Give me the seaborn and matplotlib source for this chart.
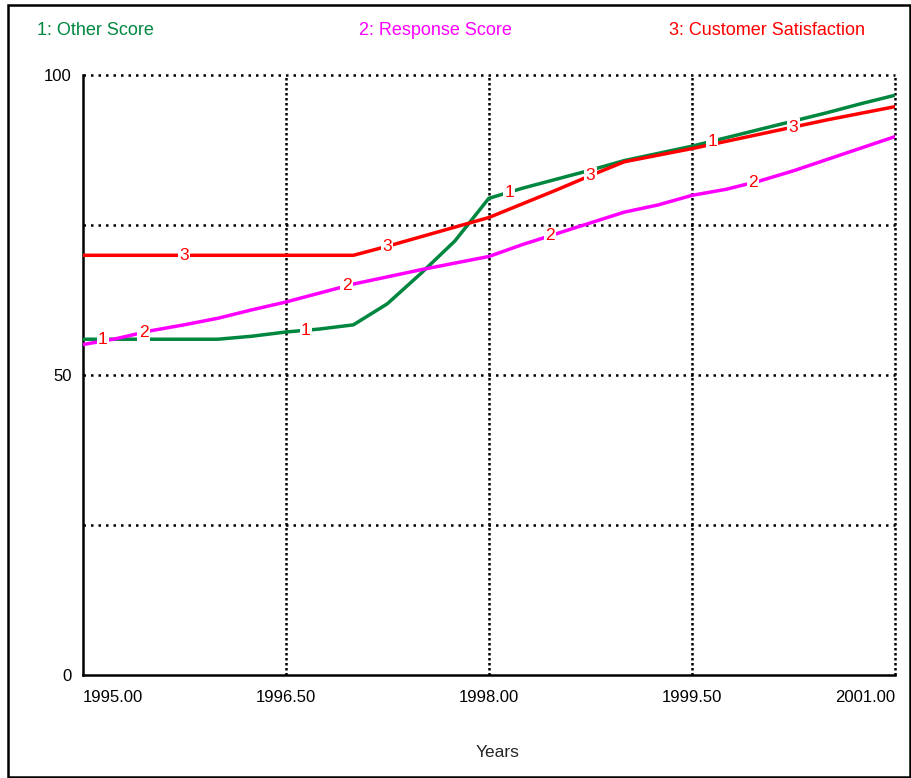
import numpy as np
import pandas as pd
import matplotlib
matplotlib.use("Agg")
import matplotlib.pyplot as plt
import seaborn as sns
from matplotlib.patches import Rectangle

# quarterly model output
years = [1995.00, 1995.25, 1995.50, 1995.75, 1996.00, 1996.25, 1996.50, 1996.75,
         1997.00, 1997.25, 1997.50, 1997.75, 1998.00, 1998.25, 1998.50, 1998.75,
         1999.00, 1999.25, 1999.50, 1999.75, 2000.00, 2000.25, 2000.50, 2000.75,
         2001.00]
other_score = [56.0, 56.0, 56.0, 56.0, 56.0, 56.5, 57.2, 57.7,
               58.4, 61.9, 67.0, 72.4, 79.5, 81.2, 82.7, 84.2,
               85.8, 87.0, 88.2, 89.6, 91.0, 92.4, 93.8, 95.3,
               96.7]
response_score = [55.1, 56.1, 57.4, 58.4, 59.5, 60.9, 62.2, 63.7,
                  65.2, 66.4, 67.6, 68.7, 69.8, 71.8, 73.6, 75.4,
                  77.2, 78.4, 80.0, 81.0, 82.4, 84.1, 86.0, 87.9,
                  89.8]
customer_satisfaction = [70.0, 70.0, 70.0, 70.0, 70.0, 70.0, 70.0, 70.0,
                         70.0, 71.5, 73.1, 74.7, 76.3, 78.6, 80.9, 83.3,
                         85.6, 86.7, 87.8, 89.0, 90.2, 91.4, 92.6, 93.7,
                         94.8]
series_names = ["1: Other Score", "2: Response Score", "3: Customer Satisfaction"]
series_colors = ["#00873F", "#FF00FF", "#FF0000"]
x_ticks = [1995.0, 1996.5, 1998.0, 1999.5, 2001.0]
x_tick_labels = ["1995.00", "1996.50", "1998.00", "1999.50", "2001.00"]
y_ticks = [0, 25, 50, 75, 100]
y_tick_labels = ["0", "", "50", "", "100"]

sns.set_style("white")
plt.rcParams["font.family"] = ["Liberation Sans", "DejaVu Sans"]

all_values = [other_score, response_score, customer_satisfaction]
df = pd.DataFrame({
    "Years": years * 3,
    "Value": other_score + response_score + customer_satisfaction,
    "Series": [n for n in series_names for _ in years],
})

fig = plt.figure(figsize=(9.12, 7.78), dpi=100)
ax = fig.add_axes([0.0905, 0.1325, 0.9814 - 0.0905, 0.903 - 0.1325])

# dotted grid, drawn unclipped so the edge lines show fully
for yv in [25, 50, 75, 100]:
    ax.axhline(yv, color="black", lw=1.8, ls=(0, (1, 2)), clip_on=False, zorder=1)
for xv in [1996.5, 1998.0, 1999.5, 2001.0]:
    ax.axvline(xv, color="black", lw=1.8, ls=(0, (1, 1)), clip_on=False, zorder=1)

sns.lineplot(data=df, x="Years", y="Value", hue="Series",
             palette=dict(zip(series_names, series_colors)),
             linewidth=2.5, legend=False, ax=ax, zorder=3)

# numbered markers along each curve
for i, vals in enumerate(all_values):
    for k in range(4):
        t = 1995.15 + 0.3 * i + 1.5 * k
        v = np.interp(t, years, vals)
        ax.text(t, v, str(i + 1), color="#FF0000", fontsize=12.5,
                ha="center", va="center", zorder=4,
                bbox=dict(boxstyle="square,pad=0.08", fc="white", ec="none"))

ax.set_xlim(1995, 2001)
ax.set_ylim(0, 100)
ax.set_xticks(x_ticks)
ax.set_xticklabels(x_tick_labels)
ax.set_yticks(y_ticks)
ax.set_yticklabels(y_tick_labels)
ax.tick_params(axis="both", direction="out", length=6, width=1.3,
               color="black", labelsize=12, labelcolor="black", pad=2)
ax.tick_params(axis="x", length=8, pad=3)
labels = ax.get_xticklabels()
labels[0].set_ha("left")
labels[-1].set_ha("right")
ax.set_xlabel("")
ax.set_ylabel("")
for side in ["top", "right"]:
    ax.spines[side].set_visible(False)
for side in ["left", "bottom"]:
    ax.spines[side].set_color("black")
    ax.spines[side].set_linewidth(1.8)

fig.text(0.545, 0.033, "Years", ha="center", va="center", fontsize=12.5)

for name, col, xc in zip(series_names, series_colors, [0.105, 0.478, 0.841]):
    fig.text(xc, 0.961, name, color=col, ha="center", va="center", fontsize=13)

fig.patches.append(Rectangle((0.0088, 0.0013), 0.989, 0.992, transform=fig.transFigure,
                             fill=False, ec="black", lw=1.8))

fig.savefig("out.png", dpi=100)
